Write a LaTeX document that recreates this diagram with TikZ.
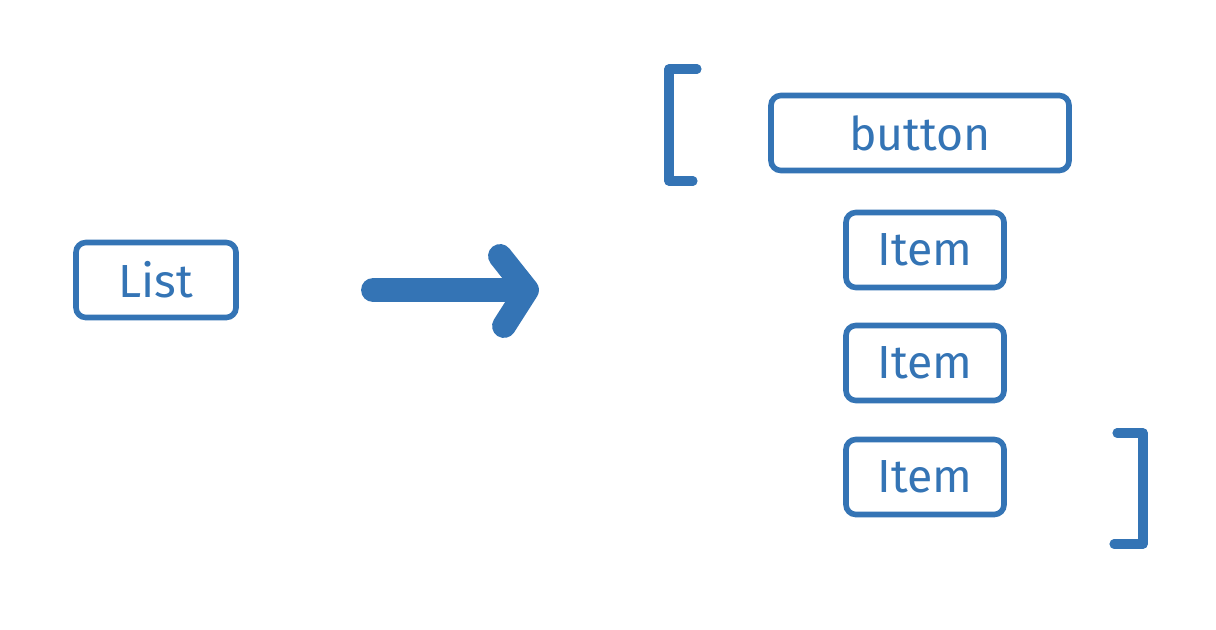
\documentclass[tikz,border=0pt]{standalone}
\usepackage{fontspec}
\setmainfont{Fira Sans}
\usepackage{tikz}
\definecolor{penblue}{RGB}{52,116,181}
\tikzstyle{every node}=[text=penblue,font=\fontsize{33}{38}\selectfont]
\tikzstyle{widget}=[draw=penblue,line width=4pt,rounded corners=7pt,minimum height=75*0.025cm,inner sep=0pt]
\tikzstyle{item}=[widget,minimum width=158*0.025cm]
\tikzstyle{bracket}=[draw=penblue,line width=6.5pt,line cap=round,line join=round]

\begin{document}
\begin{tikzpicture}[x=0.025cm,y=-0.025cm]
  \useasboundingbox[fill=white] (0,0) rectangle (1216,630);
  % left side
  \node [widget,minimum width=160*0.025cm] (list) at (156,280) {List};
  % right side
  \node [widget,minimum width=298*0.025cm] (button) at (920,133) {button};
  \node [item] (item1) at (925,250) {Item};
  \node [item] (item2) at (925,363) {Item};
  \node [item] (item3) at (925,477) {Item};
  % brackets
  \draw [bracket] (697,69) -| (669,181) -- (693,181);
  \draw [bracket] (1117,433) -| (1143,544) -- (1114,544);
  % big arrow
  \coordinate (from) at (373,290);
  \coordinate (to) at (527,290);
  \draw [penblue,line width=17pt,line cap=round,line join=round]
    (from) -- (to) (500,256) -- (to) -- (504,326);
\end{tikzpicture}
\end{document}
